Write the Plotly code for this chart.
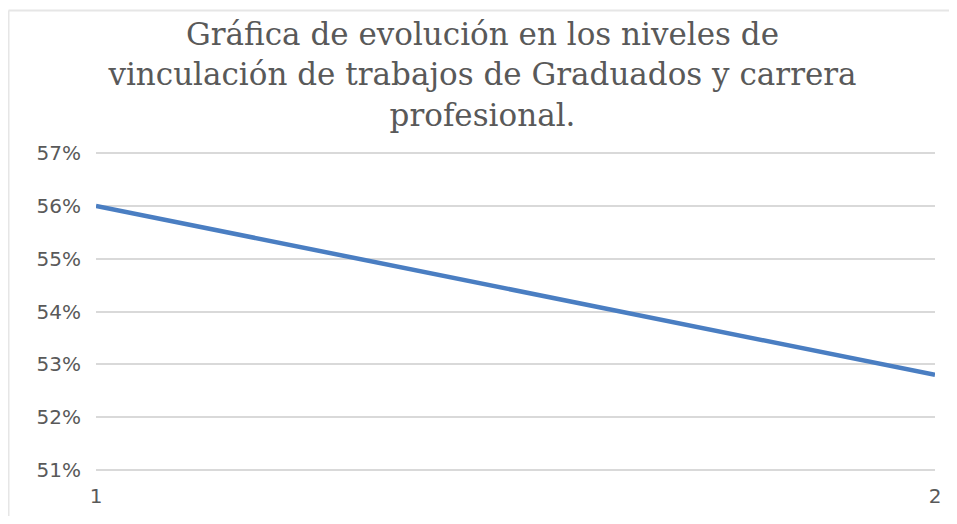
import plotly.graph_objects as go

categories = [1, 2]
values = [0.560, 0.528]
y_ticks = [0.51, 0.52, 0.53, 0.54, 0.55, 0.56, 0.57]
y_tick_labels = ["51%", "52%", "53%", "54%", "55%", "56%", "57%"]
title_text = ("Gráfica de evolución en los niveles de<br>"
              "vinculación de trabajos de Graduados y carrera<br>"
              "profesional.")

# page has an 8px body margin, so figure coordinates = page - 8
OFF = 8
W, H = 957 - OFF, 524 - 2 * OFF
L, R, T, B = 96 - OFF, 22, 151 - OFF, 52 - OFF

fig = go.Figure()
fig.add_trace(go.Scatter(
    x=categories, y=values, mode="lines",
    line=dict(color="#4a7ec2", width=4.5),
    hoverinfo="skip", showlegend=False,
))

pw = W - L - R
ph = H - T - B

def px_x(p):
    return (p - OFF - L) / pw

def px_y(p):
    return (H - B - (p - OFF)) / ph

fig.update_layout(
    width=W, height=H,
    margin=dict(l=L, r=R, t=T, b=B, pad=0),
    paper_bgcolor="white", plot_bgcolor="white",
    title=dict(
        text=title_text,
        x=0.5, xanchor="center",
        y=1 - (45 - OFF) / H, yanchor="middle",
        font=dict(family="DejaVu Serif, serif", size=31, color="#595959"),
    ),
    xaxis=dict(
        range=[1, 2], tickvals=categories, ticktext=[str(c) for c in categories],
        showgrid=False, zeroline=False, showline=False, ticks="",
        tickfont=dict(family="DejaVu Sans, sans-serif", size=20, color="#595959"),
        ticklabelstandoff=10, automargin=False,
    ),
    yaxis=dict(
        range=[0.5096, 0.5704], tickvals=y_ticks, ticktext=y_tick_labels,
        showgrid=True, gridcolor="#d9d9d9", gridwidth=1.5,
        zeroline=False, showline=False, ticks="",
        tickfont=dict(family="DejaVu Sans, sans-serif", size=20, color="#595959"),
        ticklabelstandoff=14, automargin=False,
    ),
    shapes=[
        dict(type="line", xref="paper", yref="paper",
             x0=px_x(8.5), x1=px_x(957), y0=px_y(10.5), y1=px_y(10.5),
             line=dict(color="#e6e6e6", width=2)),
        dict(type="line", xref="paper", yref="paper",
             x0=px_x(8.5), x1=px_x(8.5), y0=px_y(10.5), y1=px_y(524),
             line=dict(color="#e6e6e6", width=2)),
    ],
)

fig.write_html("out.html")
